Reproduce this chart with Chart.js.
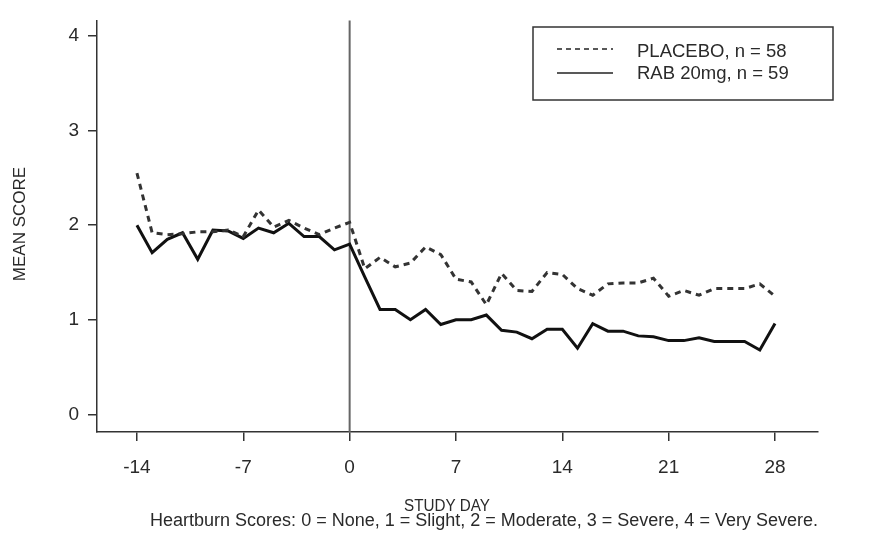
<!DOCTYPE html>
<html>
<head>
<meta charset="utf-8">
<script src="https://cdn.jsdelivr.net/npm/chart.js@4"></script>
<style>
  html, body { margin: 0; padding: 0; background: #fff; }
  #wrap { width: 871px; height: 539px; position: relative; }
</style>
</head>
<body>
<div id="wrap"><canvas id="chart"></canvas></div>
<script>
const studyDays = [-14, -13, -12, -11, -10, -9, -8, -7, -6, -5, -4, -3, -2, -1, 0,
    1, 2, 3, 4, 5, 6, 7, 8, 9, 10, 11, 12, 13, 14,
    15, 16, 17, 18, 19, 20, 21, 22, 23, 24, 25, 26, 27, 28];
const placeboScores = [2.55, 1.92, 1.90, 1.91, 1.93, 1.93, 1.95, 1.88, 2.16, 1.98, 2.05, 1.97, 1.90, 1.97, 2.03,
    1.54, 1.66, 1.56, 1.60, 1.77, 1.69, 1.43, 1.40, 1.16, 1.49, 1.31, 1.30, 1.50, 1.48,
    1.33, 1.26, 1.38, 1.39, 1.39, 1.44, 1.25, 1.31, 1.26, 1.33, 1.33, 1.33, 1.38, 1.25];
const rabScores = [2.00, 1.71, 1.85, 1.92, 1.64, 1.95, 1.94, 1.86, 1.97, 1.92, 2.02, 1.88, 1.88, 1.74, 1.80,
    1.45, 1.11, 1.11, 1.00, 1.11, 0.95, 1.00, 1.00, 1.05, 0.89, 0.87, 0.80, 0.90, 0.90,
    0.70, 0.96, 0.88, 0.88, 0.83, 0.82, 0.78, 0.78, 0.81, 0.77, 0.77, 0.77, 0.68, 0.96];
const seriesLabels = ['PLACEBO, n = 58', 'RAB 20mg, n = 59'];
const xTickValues = [-14, -7, 0, 7, 14, 21, 28];
const yTickValues = [0, 1, 2, 3, 4];
const xTitle = 'STUDY DAY';
const yTitle = 'MEAN SCORE';
const footnote = 'Heartburn Scores: 0 = None, 1 = Slight, 2 = Moderate, 3 = Severe, 4 = Very Severe.';

const FONT = '"Liberation Sans", Arial, sans-serif';
const INK = '#2a2a2a';

const toPoints = vals => vals.map((v, i) => ({ x: studyDays[i], y: v }));

// vertical reference line at day 0
const baselinePlugin = {
    id: 'baseline',
    beforeDatasetsDraw(chart) {
        const { ctx, chartArea, scales } = chart;
        const px = scales.x.getPixelForValue(0);
        ctx.save();
        ctx.strokeStyle = '#666';
        ctx.lineWidth = 2;
        ctx.beginPath();
        ctx.moveTo(px, chartArea.top);
        ctx.lineTo(px, chartArea.bottom);
        ctx.stroke();
        ctx.restore();
    }
};

// boxed legend plus axis titles and footnote
const annotatePlugin = {
    id: 'annotate',
    afterDraw(chart) {
        const { ctx } = chart;
        ctx.save();
        ctx.strokeStyle = '#333';
        ctx.lineWidth = 1.5;
        ctx.strokeRect(533, 27, 300, 73);

        const rows = [49, 73];
        chart.data.datasets.forEach((ds, i) => {
            ctx.beginPath();
            ctx.strokeStyle = '#222';
            ctx.lineWidth = 1.4;
            ctx.setLineDash(ds.borderDash && ds.borderDash.length ? [5, 4] : []);
            ctx.moveTo(557, rows[i]);
            ctx.lineTo(613, rows[i]);
            ctx.stroke();
            ctx.setLineDash([]);
            ctx.fillStyle = INK;
            ctx.font = '18.5px ' + FONT;
            ctx.textAlign = 'left';
            ctx.textBaseline = 'middle';
            ctx.fillText(ds.label, 637, [52, 74][i]);
        });

        ctx.fillStyle = INK;
        ctx.textAlign = 'center';
        ctx.textBaseline = 'middle';
        ctx.font = '16px ' + FONT;
        ctx.fillText(xTitle, 447, 507, 86);
        ctx.font = '18px ' + FONT;
        ctx.fillText(footnote, 484, 521, 672);

        ctx.translate(20, 224);
        ctx.rotate(-Math.PI / 2);
        ctx.font = '17px ' + FONT;
        ctx.fillText(yTitle, 0, 0, 118);
        ctx.restore();
    }
};

const ctx = document.getElementById('chart').getContext('2d');
const chart = new Chart(ctx, {
    type: 'line',
    data: {
        datasets: [
            {
                label: seriesLabels[0],
                data: toPoints(placeboScores),
                borderColor: '#333',
                borderWidth: 3,
                borderDash: [6, 5],
                pointRadius: 0,
                tension: 0
            },
            {
                label: seriesLabels[1],
                data: toPoints(rabScores),
                borderColor: '#111',
                borderWidth: 3,
                pointRadius: 0,
                tension: 0
            }
        ]
    },
    options: {
        responsive: true,
        maintainAspectRatio: false,
        animation: false,
        layout: { padding: { top: 10, right: 53, left: 0, bottom: 0 } },
        plugins: {
            legend: { display: false },
            tooltip: { enabled: false }
        },
        scales: {
            x: {
                type: 'linear',
                min: -16.63,
                max: 30.83,
                afterBuildTicks: s => { s.ticks = xTickValues.map(v => ({ value: v })); },
                afterFit: s => { s.height = 107; },
                ticks: {
                    color: INK,
                    font: { family: FONT, size: 19 },
                    padding: 15,
                    callback: v => String(v)
                },
                grid: { drawOnChartArea: false, drawTicks: true, tickLength: 9, color: '#333', lineWidth: 1.5 },
                border: { display: true, color: '#333', width: 1.5 }
            },
            y: {
                type: 'linear',
                min: -0.186,
                max: 4.165,
                afterBuildTicks: s => { s.ticks = yTickValues.map(v => ({ value: v })); },
                afterFit: s => { s.width = 97; },
                ticks: {
                    color: INK,
                    font: { family: FONT, size: 19 },
                    padding: 9,
                    callback: v => String(v)
                },
                grid: { drawOnChartArea: false, drawTicks: true, tickLength: 9, color: '#333', lineWidth: 1.5 },
                border: { display: true, color: '#333', width: 1.5 }
            }
        }
    },
    plugins: [baselinePlugin, annotatePlugin]
});
</script>
</body>
</html>
